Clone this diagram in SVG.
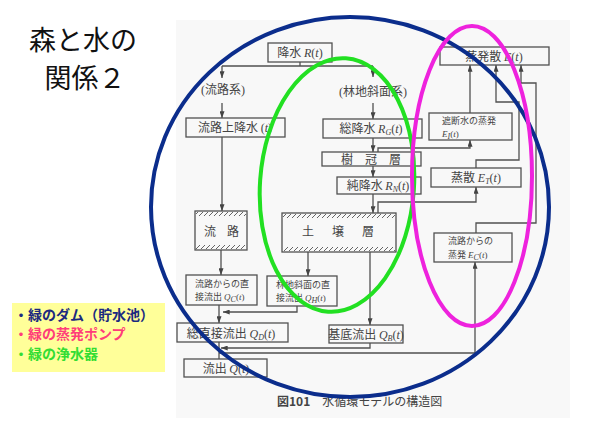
<svg xmlns="http://www.w3.org/2000/svg" width="595" height="446" viewBox="0 0 595 446">
<style>
.bx{fill:none;stroke:#505050;stroke-width:1.3}
.ln{fill:none;stroke:#505050;stroke-width:1.3}
.ar{marker-end:url(#ah)}
.t{font-family:"Noto Sans CJK JP","Noto Sans CJK SC",sans-serif;font-size:12px;fill:#444}
.sm{font-size:9px}
.m{font-family:"Liberation Serif",serif;font-style:italic}
.r{font-family:"Liberation Serif",serif}
.s{font-size:8px}
.hat{fill:url(#h)}
.title{font-family:"Noto Sans CJK JP",sans-serif;font-size:27px;fill:#111}
.lg{font-family:"Noto Sans CJK JP",sans-serif;font-size:14px;font-weight:bold}
.ring{fill:none;stroke-width:4}
</style>
<defs>
<marker id="ah" viewBox="0 0 8 6" refX="8" refY="3" markerWidth="7" markerHeight="5" orient="auto" markerUnits="userSpaceOnUse">
<path d="M0,0 L8,3 L0,6 z" fill="#444"/>
</marker>
<pattern id="h" patternUnits="userSpaceOnUse" width="5" height="5">
<path d="M0,5 L5,0 M-1,1 L1,-1 M4,6 L6,4" stroke="#555" stroke-width="0.9"/>
</pattern>
</defs>
<rect x="0" y="0" width="595" height="446" fill="#ffffff"/>
<rect x="176" y="20" width="394" height="398" fill="#f8f8f8"/>

<g id="title">
<text class="title" x="83" y="50" text-anchor="middle">森と水の</text>
<text class="title" x="85" y="88" text-anchor="middle">関係２</text>
</g>

<g id="legend">
<rect x="12" y="303" width="153" height="69" fill="#ffff99"/>
<text class="lg" x="14" y="320" fill="#1c2a80">・緑のダム（貯水池）</text>
<text class="lg" x="14" y="339" fill="#ff3d7a">・緑の蒸発ポンプ</text>
<text class="lg" x="14" y="359" fill="#33dd33">・緑の浄水器</text>
</g>

<g id="connectors">
<path class="ln" d="M300,62 V66"/>
<path class="ln" d="M222,66 H373"/>
<path class="ln ar" d="M222,66 V78"/>
<path class="ln ar" d="M222,103 V118"/>
<path class="ln ar" d="M373,66 V77"/>
<path class="ln ar" d="M373,103 V119"/>
<path class="ln ar" d="M373,138 V152"/>
<path class="ln ar" d="M373,166 V177"/>
<path class="ln ar" d="M373,194 V213"/>
<path class="ln ar" d="M222,137 V211"/>
<path class="ln ar" d="M221,250 V275"/>
<path class="ln ar" d="M308,252 V276"/>
<path class="ln ar" d="M370,252 V325"/>
<path class="ln ar" d="M297,306 V312 H223"/>
<path class="ln ar" d="M219,305 V323"/>
<path class="ln ar" d="M370,343 V348 H221"/>
<path class="ln" d="M219,342 V359"/>
<path class="ln ar" d="M219,353 H475 V262"/>
<path class="ln ar" d="M378,152 V148 H470 V140"/>
<path class="ln ar" d="M470,113 V65"/>
<path class="ln ar" d="M378,213 V202 H476 V187"/>
<path class="ln ar" d="M476,168 V160 H519 V102 H496 V65"/>
<path class="ln ar" d="M476,233 V223 H536 V83 H521 V65"/>
</g>

<g id="n-rain">
<rect class="bx" x="268" y="43" width="64" height="19"/>
<text class="t" x="300" y="57" text-anchor="middle">降水 <tspan class="m">R</tspan><tspan class="r">(</tspan><tspan class="m">t</tspan><tspan class="r">)</tspan></text>
</g>
<g id="l-channel">
<text class="t" x="223" y="94" text-anchor="middle"><tspan class="r">(</tspan>流路系<tspan class="r">)</tspan></text>
</g>
<g id="l-forest">
<text class="t" x="373" y="96" text-anchor="middle"><tspan class="r">(</tspan>林地斜面系<tspan class="r">)</tspan></text>
</g>
<g id="n-rc">
<rect class="bx" x="186" y="118" width="99" height="19"/>
<text class="t" x="235" y="132" text-anchor="middle">流路上降水 <tspan class="r">(</tspan><tspan class="m">t</tspan><tspan class="r">)</tspan></text>
</g>
<g id="n-rg">
<rect class="bx" x="323" y="119" width="99" height="19"/>
<text class="t" x="371" y="133" text-anchor="middle">総降水 <tspan class="m">R</tspan><tspan class="m s" dy="2">G</tspan><tspan class="r" dy="-2">(</tspan><tspan class="m">t</tspan><tspan class="r">)</tspan></text>
</g>
<g id="n-canopy">
<rect class="bx" x="322" y="152" width="99" height="14"/>
<text class="t" x="371" y="163.5" text-anchor="middle" font-size="11.5">樹　冠　層</text>
</g>
<g id="n-rn">
<rect class="bx" x="337" y="177" width="84" height="17"/>
<text class="t" x="378" y="190" text-anchor="middle">純降水 <tspan class="m">R</tspan><tspan class="m s" dy="2">N</tspan><tspan class="r" dy="-2">(</tspan><tspan class="m">t</tspan><tspan class="r">)</tspan></text>
</g>
<g id="n-soil">
<rect class="bx" x="282" y="213" width="114" height="39"/>
<rect class="hat" x="283" y="214" width="112" height="4"/>
<rect class="hat" x="283" y="247" width="112" height="4"/>
<text class="t" x="302" y="236" letter-spacing="18">土壌層</text>
</g>
<g id="n-channel">
<rect class="bx" x="195" y="211" width="52" height="39"/>
<rect class="hat" x="196" y="212" width="50" height="4"/>
<rect class="hat" x="196" y="245" width="50" height="4"/>
<text class="t" x="204" y="236" letter-spacing="11">流路</text>
</g>
<g id="n-qc">
<rect class="bx" x="186" y="275" width="71" height="30"/>
<text class="t sm" x="195" y="287">流路からの直</text>
<text class="t sm" x="195" y="300">接流出 <tspan class="m">Q</tspan><tspan class="m s" dy="2">C</tspan><tspan class="r" dy="-2">(</tspan><tspan class="m">t</tspan><tspan class="r">)</tspan></text>
</g>
<g id="n-qh">
<rect class="bx" x="267" y="276" width="70" height="30"/>
<text class="t sm" x="276" y="288">林地斜面の直</text>
<text class="t sm" x="276" y="301">接流出 <tspan class="m">Q</tspan><tspan class="m s" dy="2">H</tspan><tspan class="r" dy="-2">(</tspan><tspan class="m">t</tspan><tspan class="r">)</tspan></text>
</g>
<g id="n-qd">
<rect class="bx" x="177" y="323" width="111" height="19"/>
<text class="t" x="231" y="338" text-anchor="middle">総直接流出 <tspan class="m">Q</tspan><tspan class="m s" dy="2">D</tspan><tspan class="r" dy="-2">(</tspan><tspan class="m">t</tspan><tspan class="r">)</tspan></text>
</g>
<g id="n-qb">
<rect class="bx" x="329" y="325" width="74" height="18"/>
<text class="t" x="366" y="339" text-anchor="middle" font-size="11">基底流出 <tspan class="m">Q</tspan><tspan class="m s" dy="2">B</tspan><tspan class="r" dy="-2">(</tspan><tspan class="m">t</tspan><tspan class="r">)</tspan></text>
</g>
<g id="n-q">
<rect class="bx" x="184" y="359" width="83" height="18"/>
<text class="t" x="226" y="373" text-anchor="middle">流出 <tspan class="m">Q</tspan><tspan class="r">(</tspan><tspan class="m">t</tspan><tspan class="r">)</tspan></text>
</g>
<g id="n-e">
<rect class="bx" x="440" y="47" width="109" height="18"/>
<text class="t" x="494" y="61" text-anchor="middle">蒸発散 <tspan class="m">E</tspan><tspan class="r">(</tspan><tspan class="m">t</tspan><tspan class="r">)</tspan></text>
</g>
<g id="n-ei">
<rect class="bx" x="429" y="113" width="83" height="27"/>
<text class="t sm" x="442" y="123.5">遮断水の蒸発</text>
<text class="t sm" x="442" y="136.5"><tspan class="m">E</tspan><tspan class="m s" dy="2">I</tspan><tspan class="r" dy="-2">(</tspan><tspan class="m">t</tspan><tspan class="r">)</tspan></text>
</g>
<g id="n-et">
<rect class="bx" x="431" y="168" width="90" height="19"/>
<text class="t" x="476" y="182" text-anchor="middle">蒸散 <tspan class="m">E</tspan><tspan class="m s" dy="2">T</tspan><tspan class="r" dy="-2">(</tspan><tspan class="m">t</tspan><tspan class="r">)</tspan></text>
</g>
<g id="n-ec">
<rect class="bx" x="434" y="233" width="78" height="29"/>
<text class="t sm" x="448" y="244">流路からの</text>
<text class="t sm" x="448" y="257.5">蒸発 <tspan class="m">E</tspan><tspan class="m s" dy="2">C</tspan><tspan class="r" dy="-2">(</tspan><tspan class="m">t</tspan><tspan class="r">)</tspan></text>
</g>
<g id="caption">
<text class="t" x="277" y="406" font-size="13"><tspan font-weight="bold">図101</tspan>　水循環モデルの構造図</text>
</g>

<g id="rings">
<ellipse class="ring" cx="350" cy="207" rx="199" ry="190" stroke="#0b2d8c"/>
<ellipse class="ring" cx="337" cy="185" rx="77" ry="127" stroke="#22e022" transform="rotate(4 337 185)"/>
<ellipse class="ring" cx="472" cy="176" rx="60" ry="150" stroke="#ee22dd"/>
</g>
</svg>
